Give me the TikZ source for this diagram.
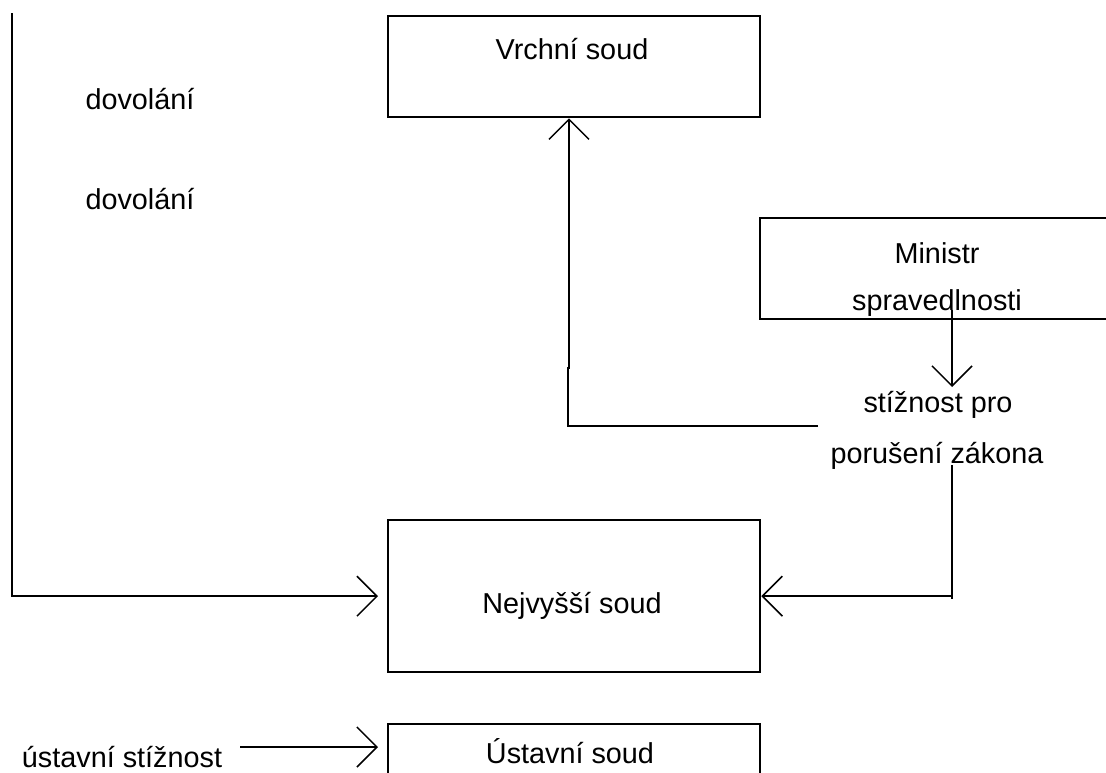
\documentclass[tikz,border=0pt]{standalone}
\usepackage{fontspec}
\setmainfont{Liberation Sans}
\usetikzlibrary{arrows.meta}
\begin{document}
\begin{tikzpicture}[x=1pt,y=-1pt,
  box/.style={draw, line width=2.3pt, inner sep=0pt, anchor=north west},
  conn/.style={line width=1.7pt},
  arr/.style={-{Straight Barb[length=20pt,width=40pt,line width=1.5pt]}},
  txt/.style={font=\fontsize{28.8}{34}\selectfont, inner sep=0pt, anchor=base}]
\clip (0,0) rectangle (1106,772);
\fill[white] (0,0) rectangle (1106,772);
% boxes
\node[box, minimum width=372pt, minimum height=101pt] (vrchni) at (387,15) {};
\node[box, minimum width=420pt, minimum height=101pt] (ministr) at (759,217) {};
\node[box, minimum width=372pt, minimum height=152pt] (nejv) at (387,519) {};
\node[box, minimum width=372pt, minimum height=140pt] (ustavni) at (387,723) {};
% texts
\node[txt] (tvrchni) at (572,59) {Vrchní soud};
\node[txt] (tdov1) at (140,109) {dovolání};
\node[txt] (tdov2) at (140,209) {dovolání};
\node[txt] (tmin1) at (937,263) {Ministr};
\node[txt] (tmin2) at (937,310) {spravedlnosti};
\node[txt] (tstiz1) at (938,412) {stížnost pro};
\node[txt] (tstiz2) at (937,463) {porušení zákona};
\node[txt] (tnejv) at (572,613) {Nejvyšší soud};
\node[txt] (tust) at (570,763) {Ústavní soud};
\node[txt] (tuststiz) at (122,767) {ústavní stížnost};
% coordinates
\coordinate (lt) at (12,13);
\coordinate (s1) at (818,426);
\coordinate (cA) at (568,368);
\coordinate (jog) at (569,368);
\coordinate (m1) at (952,310);
\coordinate (m2) at (952,387);
\coordinate (p1) at (952,465);
\coordinate (p2) at (952,599);
\coordinate (u1) at (240,747);
% connectors
\draw[conn, arr] (lt) |- ([xshift=-9pt]nejv.west);
\draw[conn, arr] (s1) -- (s1 -| cA) -- (cA) -- (jog) -- (vrchni.south -| jog);
\draw[conn, arr] (m1) -- (m2);
\draw[conn] (p1) -- (p2);
\draw[conn, arr] (nejv.east -| p1) -- (nejv.east);
\draw[conn, arr] (u1) -- ([xshift=-9pt]ustavni.west |- u1);
\end{tikzpicture}
\end{document}
